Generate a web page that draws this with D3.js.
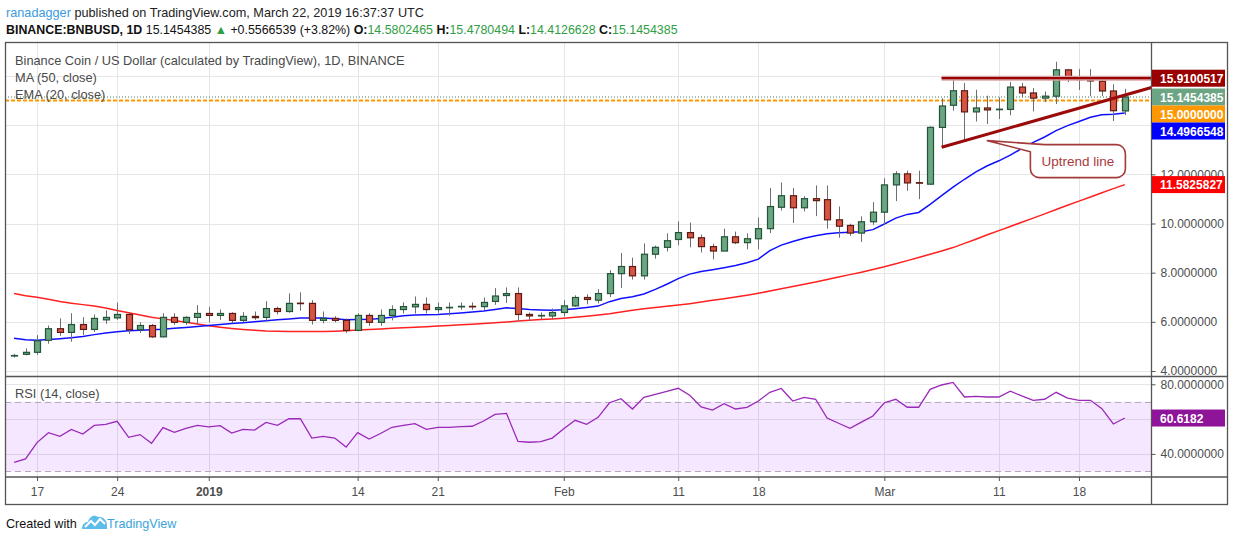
<!DOCTYPE html>
<html>
<head>
<meta charset="utf-8">
<script src="https://cdn.jsdelivr.net/npm/d3@7"></script>
<style>
body { margin: 0; background: #fff; }
</style>
</head>
<body>
<div id="chart"></div>
<script>
// daily candles, Dec 15 2018 .. Mar 22 2019
var startDay = new Date(Date.UTC(2018, 11, 15));
var endDay = new Date(Date.UTC(2019, 2, 22));

var opens = [4.61, 4.68, 4.76, 5.25, 5.72, 5.57, 5.89, 5.69, 6.08, 6.16,
    6.30, 5.68, 5.85, 5.39, 6.18, 5.98, 6.18, 6.34, 6.26, 6.34,
    6.06, 6.22, 6.18, 6.54, 6.42, 6.76, 6.75, 6.06, 6.14, 6.06,
    5.65, 6.26, 5.98, 6.26, 6.50, 6.61, 6.71, 6.50, 6.57, 6.61,
    6.63, 6.62, 6.83, 7.07, 7.15, 6.30, 6.24, 6.24, 6.38, 6.65,
    6.99, 6.88, 7.15, 7.96, 8.25, 7.87, 8.75, 9.03, 9.35, 9.63,
    9.42, 9.06, 8.88, 9.46, 9.22, 9.38, 9.79, 10.66, 11.13, 10.64,
    11.01, 10.97, 10.15, 9.92, 9.61, 10.07, 10.46, 11.57, 12.02, 11.66,
    11.60, 13.91, 14.81, 15.40, 14.54, 14.70, 14.63, 14.64, 15.55, 15.31,
    15.10, 15.18, 16.25, 15.87, 15.82, 15.79, 15.39, 14.5802465];
var highs = [4.70, 4.92, 5.46, 5.85, 6.14, 6.35, 6.19, 6.30, 6.47, 6.79,
    6.37, 5.98, 5.91, 6.35, 6.35, 6.23, 6.68, 6.60, 6.50, 6.39,
    6.39, 6.42, 6.84, 6.62, 7.16, 7.20, 6.88, 6.42, 6.23, 6.14,
    6.35, 6.35, 6.50, 6.67, 6.79, 7.03, 6.99, 6.79, 6.79, 6.79,
    6.79, 6.99, 7.37, 7.40, 7.40, 6.38, 6.38, 6.54, 6.88, 7.08,
    7.12, 7.33, 8.10, 8.80, 8.61, 9.19, 9.10, 9.60, 10.09, 10.04,
    9.55, 9.18, 9.79, 9.67, 9.60, 10.24, 11.44, 11.67, 11.44, 11.11,
    11.55, 11.55, 10.69, 9.99, 10.29, 10.87, 11.84, 12.13, 12.15, 12.15,
    13.95, 15.09, 15.90, 15.72, 15.44, 15.20, 15.13, 15.76, 15.72, 15.51,
    15.37, 16.58, 16.28, 16.28, 16.28, 15.97, 15.66, 15.4780494];
var lows = [4.55, 4.64, 4.66, 5.11, 5.43, 5.19, 5.47, 5.59, 5.92, 6.08,
    5.51, 5.55, 5.35, 5.37, 5.88, 5.88, 5.89, 5.98, 6.08, 5.94,
    5.98, 6.08, 6.00, 6.30, 6.37, 6.45, 5.89, 5.94, 5.98, 5.55,
    5.65, 5.84, 5.84, 6.06, 6.34, 6.34, 6.34, 6.37, 6.26, 6.49,
    6.49, 6.49, 6.69, 6.77, 6.04, 6.04, 6.11, 6.11, 6.22, 6.61,
    6.71, 6.75, 7.01, 7.37, 7.72, 7.72, 8.57, 8.86, 9.12, 9.03,
    8.82, 8.54, 8.88, 9.16, 8.95, 8.95, 9.61, 10.53, 10.02, 10.49,
    10.30, 9.79, 9.42, 9.50, 9.25, 9.95, 9.95, 10.91, 11.33, 10.99,
    11.58, 13.15, 14.59, 13.37, 14.15, 14.05, 14.25, 14.40, 15.13, 14.56,
    14.94, 14.86, 15.75, 15.43, 15.18, 15.18, 14.17, 14.4126628];
var closes = [4.63, 4.76, 5.23, 5.72, 5.57, 5.89, 5.69, 6.14, 6.18, 6.30,
    5.68, 5.85, 5.39, 6.18, 5.98, 6.18, 6.34, 6.26, 6.34, 6.06,
    6.22, 6.17, 6.54, 6.42, 6.75, 6.74, 6.06, 6.14, 6.06, 5.65,
    6.26, 5.98, 6.26, 6.50, 6.62, 6.71, 6.50, 6.58, 6.59, 6.63,
    6.61, 6.79, 7.05, 7.15, 6.30, 6.24, 6.26, 6.38, 6.65, 6.99,
    6.91, 7.15, 7.96, 8.25, 7.87, 8.75, 9.03, 9.30, 9.63, 9.42,
    9.06, 8.88, 9.46, 9.22, 9.38, 9.79, 10.69, 11.13, 10.64, 11.01,
    10.93, 10.15, 9.89, 9.61, 10.07, 10.46, 11.57, 12.02, 11.65, 11.64,
    13.91, 14.78, 15.40, 14.54, 14.70, 14.62, 14.65, 15.55, 15.31, 15.10,
    15.18, 16.25, 15.91, 15.85, 15.80, 15.39, 14.5887846, 15.1454385];

var ma50 = [7.15, 7.06, 7.00, 6.92, 6.83, 6.76, 6.70, 6.64, 6.56, 6.46,
    6.37, 6.28, 6.19, 6.12, 6.05, 5.98, 5.91, 5.84, 5.78, 5.73,
    5.69, 5.66, 5.63, 5.62, 5.61, 5.61, 5.61, 5.61, 5.62, 5.64,
    5.67, 5.69, 5.71, 5.74, 5.76, 5.78, 5.80, 5.83, 5.85, 5.88,
    5.90, 5.93, 5.96, 5.99, 6.03, 6.06, 6.09, 6.12, 6.15, 6.19,
    6.23, 6.28, 6.33, 6.40, 6.47, 6.53, 6.58, 6.63, 6.68, 6.74,
    6.81, 6.88, 6.94, 7.01, 7.08, 7.16, 7.25, 7.35, 7.44, 7.53,
    7.62, 7.72, 7.82, 7.92, 8.02, 8.13, 8.24, 8.36, 8.49, 8.62,
    8.75, 8.88, 9.02, 9.19, 9.36, 9.54, 9.71, 9.88, 10.05, 10.22,
    10.39, 10.57, 10.74, 10.91, 11.08, 11.25, 11.42, 11.5825827];
var ema20 = [5.33, 5.27, 5.25, 5.28, 5.31, 5.35, 5.40, 5.48, 5.55, 5.60,
    5.64, 5.66, 5.68, 5.70, 5.74, 5.77, 5.81, 5.85, 5.89, 5.93,
    5.96, 6.00, 6.04, 6.08, 6.12, 6.16, 6.16, 6.16, 6.13, 6.08,
    6.09, 6.10, 6.14, 6.19, 6.25, 6.28, 6.29, 6.30, 6.33, 6.36,
    6.40, 6.44, 6.50, 6.57, 6.54, 6.50, 6.48, 6.47, 6.49, 6.53,
    6.58, 6.64, 6.82, 6.95, 7.02, 7.13, 7.32, 7.53, 7.76, 7.94,
    8.05, 8.12, 8.20, 8.29, 8.40, 8.55, 8.90, 9.12, 9.27, 9.40,
    9.50, 9.58, 9.62, 9.64, 9.66, 9.75, 9.98, 10.22, 10.37, 10.45,
    10.78, 11.13, 11.48, 11.80, 12.10, 12.35, 12.55, 12.78, 13.05, 13.30,
    13.52, 13.78, 13.98, 14.15, 14.32, 14.42, 14.44, 14.4966548];
var rsi14 = [35.2, 37.1, 46.5, 52.2, 50.1, 54.1, 51.4, 56.4, 57.0, 58.7,
    49.5, 51.1, 46.1, 55.1, 52.4, 54.7, 56.4, 55.5, 56.2, 52.0,
    54.1, 53.7, 58.1, 56.4, 60.2, 60.2, 49.1, 50.1, 49.1, 43.9,
    52.2, 48.5, 51.7, 55.3, 56.4, 57.4, 54.1, 55.3, 55.3, 55.7,
    55.9, 58.9, 62.7, 63.3, 47.2, 46.7, 47.0, 49.1, 54.5, 59.3,
    57.0, 61.0, 69.4, 71.7, 65.8, 72.5, 74.2, 76.0, 77.7, 73.7,
    67.0, 65.2, 68.9, 65.8, 66.8, 70.4, 75.4, 77.6, 70.4, 72.5,
    71.4, 60.6, 57.6, 54.7, 58.3, 61.8, 69.4, 71.4, 66.8, 66.8,
    77.1, 79.6, 81.1, 72.7, 73.1, 72.7, 72.7, 76.0, 73.3, 70.8,
    71.4, 75.4, 72.1, 70.8, 70.8, 66.0, 57.2, 60.6182];

var tickDates = ["2018-12-17", "2018-12-24", "2019-01-01", "2019-01-14", "2019-01-21", "2019-02-01",
    "2019-02-11", "2019-02-18", "2019-03-01", "2019-03-11", "2019-03-18"];
var tickLabels = ["17", "24", "2019", "14", "21", "Feb", "11", "18", "Mar", "11", "18"];
var priceTicks = [4, 6, 8, 10, 12, 14, 16];
var rsiGrid = [40, 60, 80];
var rsiLabels = [40, 80];
var rsiBand = [30, 70];

// drawings on the chart
var resistance = 15.9100517;
var resistanceDates = ["2019-03-06", "2019-03-26"];
var orangeLevel = 15.0;
var trendDates = ["2019-03-06", "2019-03-25"];
var trendPrices = [13.10, 15.62];
var calloutDate = "2019-03-10";
var calloutPrice = 13.37;

var upFill = "#6ba583", upLine = "#225437", downFill = "#d75442", downLine = "#5b1a13";
var font = '"Liberation Sans", Arial, sans-serif';

var box = { left: 5, right: 1151, outer: 1227, top: 42, mainBottom: 376.5, rsiBottom: 477, bottom: 504 };

var days = d3.utcDay.range(startDay, d3.utcDay.offset(endDay, 1));
var candles = days.map(function (d, i) {
    return { date: d, o: opens[i], h: highs[i], l: lows[i], c: closes[i] };
});
var parse = d3.utcParse("%Y-%m-%d");

var x = d3.scaleUtc().domain([startDay, endDay]).range([14.1, 1124.8]);
var y = d3.scaleLinear().domain([4, 16]).range([371, 76]);
var yr = d3.scaleLinear().domain([30, 80]).range([471.3, 384.3]);

var svg = d3.select("#chart").append("svg")
    .attr("width", 1234)
    .attr("height", 541)
    .style("font-family", font);

svg.append("rect").attr("width", 1234).attr("height", 541).attr("fill", "#fff");

var defs = svg.append("defs");
defs.append("clipPath").attr("id", "mainClip").append("rect")
    .attr("x", box.left).attr("y", box.top)
    .attr("width", box.right - box.left).attr("height", box.mainBottom - box.top);
defs.append("clipPath").attr("id", "rsiClip").append("rect")
    .attr("x", box.left).attr("y", box.mainBottom)
    .attr("width", box.right - box.left).attr("height", box.rsiBottom - box.mainBottom);

// header
var head1 = svg.append("text").attr("x", 6).attr("y", 17).attr("font-size", 12.7).attr("fill", "#222");
head1.append("tspan").attr("fill", "#3a9be0").text("ranadagger");
head1.append("tspan").text(" published on TradingView.com, March 22, 2019 16:37:37 UTC");

var green = "#2f9e44";
var head2 = svg.append("text").attr("x", 6).attr("y", 34).attr("font-size", 12.4).attr("fill", "#111");
head2.append("tspan").attr("font-weight", "bold").text("BINANCE:BNBUSD, 1D");
head2.append("tspan").text(" 15.1454385 ");
head2.append("tspan").attr("fill", green).text("\u25B2");
head2.append("tspan").text(" +0.5566539 (+3.82%) ");
[["O:", "14.5802465"], ["H:", "15.4780494"], ["L:", "14.4126628"], ["C:", "15.1454385"]].forEach(function (p, i) {
    head2.append("tspan").attr("font-weight", "bold").text((i ? " " : "") + p[0]);
    head2.append("tspan").attr("fill", green).text(p[1]);
});

// grid
var grid = svg.append("g").attr("stroke", "#e6e6e6").attr("stroke-width", 1);
grid.selectAll(".vg").data(tickDates).enter().append("line")
    .attr("x1", function (d) { return Math.round(x(parse(d))) + 0.5; })
    .attr("x2", function (d) { return Math.round(x(parse(d))) + 0.5; })
    .attr("y1", box.top).attr("y2", box.rsiBottom);
grid.selectAll(".hg").data(priceTicks).enter().append("line")
    .attr("x1", box.left).attr("x2", box.right)
    .attr("y1", function (d) { return Math.round(y(d)) + 0.5; })
    .attr("y2", function (d) { return Math.round(y(d)) + 0.5; });
grid.selectAll(".rg").data(rsiGrid).enter().append("line")
    .attr("x1", box.left).attr("x2", box.right)
    .attr("y1", function (d) { return Math.round(yr(d)) + 0.5; })
    .attr("y2", function (d) { return Math.round(yr(d)) + 0.5; });

// price lines across the pane
var main = svg.append("g").attr("clip-path", "url(#mainClip)");
main.append("line")
    .attr("x1", box.left).attr("x2", box.right)
    .attr("y1", y(closes[closes.length - 1])).attr("y2", y(closes[closes.length - 1]))
    .attr("stroke", "#3d7a58").attr("stroke-width", 1).attr("stroke-dasharray", "1,2");
main.append("line")
    .attr("x1", box.left).attr("x2", box.right)
    .attr("y1", y(orangeLevel)).attr("y2", y(orangeLevel))
    .attr("stroke", "#ff9800").attr("stroke-width", 2).attr("stroke-dasharray", "4,2");

// legend
var legend = svg.append("g").attr("font-size", 12.8).attr("fill", "#4a4a4a");
legend.append("text").attr("x", 15).attr("y", 65).text("Binance Coin / US Dollar (calculated by TradingView), 1D, BINANCE");
legend.append("text").attr("x", 15).attr("y", 82).text("MA (50, close)");
legend.append("text").attr("x", 15).attr("y", 99).text("EMA (20, close)");

// moving averages
var line = function (vals) {
    return d3.line().x(function (d, i) { return x(days[i]); }).y(function (d) { return y(d); })(vals);
};
main.append("path").attr("d", line(ma50)).attr("fill", "none").attr("stroke", "#ff2020").attr("stroke-width", 1.5);
main.append("path").attr("d", line(ema20)).attr("fill", "none").attr("stroke", "#1010ff").attr("stroke-width", 1.5);

// candles
var cw = 6;
var cg = main.selectAll(".candle").data(candles).enter().append("g").attr("class", "candle");
cg.append("line")
    .attr("x1", function (d) { return Math.round(x(d.date)) + 0.5; })
    .attr("x2", function (d) { return Math.round(x(d.date)) + 0.5; })
    .attr("y1", function (d) { return y(d.h); })
    .attr("y2", function (d) { return y(d.l); })
    .attr("stroke", "#6e6e6e").attr("stroke-width", 1);
cg.append("rect")
    .attr("x", function (d) { return Math.round(x(d.date)) + 0.5 - cw / 2; })
    .attr("width", cw)
    .attr("y", function (d) { return y(Math.max(d.o, d.c)); })
    .attr("height", function (d) { return Math.max(0.5, Math.abs(y(d.o) - y(d.c))); })
    .attr("fill", function (d) { return d.c >= d.o ? upFill : downFill; })
    .attr("stroke", function (d) { return d.c >= d.o ? upLine : downLine; })
    .attr("stroke-width", 1.2);

// resistance and trend line
var dr = main.append("g");
var rx = resistanceDates.map(function (d) { return x(parse(d)); });
dr.append("line").attr("x1", rx[0]).attr("x2", rx[1]).attr("y1", y(resistance)).attr("y2", y(resistance))
    .attr("stroke", "#dba3a3").attr("stroke-width", 5);
dr.append("line").attr("x1", rx[0]).attr("x2", rx[1]).attr("y1", y(resistance)).attr("y2", y(resistance))
    .attr("stroke", "#990000").attr("stroke-width", 2.2);
dr.append("line")
    .attr("x1", x(parse(trendDates[0]))).attr("y1", y(trendPrices[0]))
    .attr("x2", x(parse(trendDates[1]))).attr("y2", y(trendPrices[1]))
    .attr("stroke", "#9a0a0a").attr("stroke-width", 3);

// callout
var tip = [x(parse(calloutDate)), y(calloutPrice)];
var bx = tip[0] + 43, by = tip[1] + 4, bw = 95, bh = 33, r = 9;
var cp = "M" + tip[0] + "," + tip[1] +
    " L" + (bx + 14) + "," + by +
    " H" + (bx + bw - r) + " A" + r + "," + r + " 0 0 1 " + (bx + bw) + "," + (by + r) +
    " V" + (by + bh - r) + " A" + r + "," + r + " 0 0 1 " + (bx + bw - r) + "," + (by + bh) +
    " H" + (bx + r) + " A" + r + "," + r + " 0 0 1 " + bx + "," + (by + bh - r) +
    " V" + (by + 7) + " Z";
svg.append("path").attr("d", cp).attr("fill", "#fff").attr("stroke", "#a33a3a").attr("stroke-width", 1.6)
    .attr("stroke-linejoin", "round");
svg.append("text").attr("x", bx + bw / 2).attr("y", by + bh / 2 + 5)
    .attr("text-anchor", "middle").attr("font-size", 13.5).attr("fill", "#a83a3a").text("Uptrend line");

// rsi pane
var rp = svg.append("g").attr("clip-path", "url(#rsiClip)");
rp.append("rect")
    .attr("x", box.left).attr("width", box.right - box.left)
    .attr("y", yr(rsiBand[1])).attr("height", yr(rsiBand[0]) - yr(rsiBand[1]))
    .attr("fill", "#9915ff").attr("fill-opacity", 0.1);
rp.selectAll(".band").data(rsiBand).enter().append("line")
    .attr("x1", box.left).attr("x2", box.right)
    .attr("y1", function (d) { return Math.round(yr(d)) + 0.5; })
    .attr("y2", function (d) { return Math.round(yr(d)) + 0.5; })
    .attr("stroke", "#b5a9bd").attr("stroke-dasharray", "6,4");
rp.append("path")
    .attr("d", d3.line().x(function (d, i) { return x(days[i]); }).y(function (d) { return yr(d); })(rsi14))
    .attr("fill", "none").attr("stroke", "#9a28b8").attr("stroke-width", 1.3);
svg.append("text").attr("x", 15).attr("y", 398).attr("font-size", 12.8).attr("fill", "#4a4a4a").text("RSI (14, close)");

// frame
var frame = svg.append("g").attr("stroke", "#555").attr("fill", "none");
frame.append("rect").attr("x", box.left + 0.5).attr("y", box.top + 0.5)
    .attr("width", box.outer - box.left).attr("height", box.bottom - box.top).attr("stroke-width", 1.3);
frame.append("line").attr("x1", box.right + 0.5).attr("x2", box.right + 0.5).attr("y1", box.top).attr("y2", box.bottom).attr("stroke-width", 1.3);
frame.append("line").attr("x1", box.left).attr("x2", box.outer).attr("y1", box.mainBottom).attr("y2", box.mainBottom).attr("stroke-width", 1.5);
frame.append("line").attr("x1", box.left).attr("x2", box.outer).attr("y1", box.rsiBottom).attr("y2", box.rsiBottom).attr("stroke-width", 1.5);

// last value labels on the scale, pushed down so they do not overlap
var marks = [
    { v: resistance, color: "#990000" },
    { v: closes[closes.length - 1], color: upFill },
    { v: orangeLevel, color: "#ff9800" },
    { v: ema20[ema20.length - 1], color: "#0000ff" },
    { v: ma50[ma50.length - 1], color: "#ff0000" }
].sort(function (a, b) { return b.v - a.v; });
var prev = -Infinity;
marks.forEach(function (m) {
    m.cy = Math.max(y(m.v), prev + 17);
    prev = m.cy;
});
var rsiMark = { v: rsi14[rsi14.length - 1], color: "#8e1599", cy: yr(rsi14[rsi14.length - 1]), rsi: true };

// scale labels that sit fully under a value label are hidden, as on the source
var covered = function (cy, list) {
    return list.some(function (m) { return Math.abs(m.cy - cy) < 8.5; });
};

// price axis
var yAxis = svg.append("g")
    .attr("transform", "translate(" + (box.right + 0.5) + ",0)")
    .call(d3.axisRight(y).tickValues(priceTicks).tickSize(4).tickPadding(5).tickFormat(d3.format(".7f")));
yAxis.select(".domain").remove();
yAxis.selectAll("line").attr("stroke", "#555");
yAxis.selectAll("text").attr("font-family", font).attr("font-size", 12).attr("fill", "#4d4d4d")
    .style("display", function (d) { return covered(y(d), marks) ? "none" : null; });

var rAxis = svg.append("g")
    .attr("transform", "translate(" + (box.right + 0.5) + ",0)")
    .call(d3.axisRight(yr).tickValues(rsiLabels).tickSize(4).tickPadding(5).tickFormat(d3.format(".7f")));
rAxis.select(".domain").remove();
rAxis.selectAll("line").attr("stroke", "#555");
rAxis.selectAll("text").attr("font-family", font).attr("font-size", 12).attr("fill", "#4d4d4d");

// time axis
var xAxis = svg.append("g")
    .attr("transform", "translate(0," + box.rsiBottom + ")")
    .call(d3.axisBottom(x).tickValues(tickDates.map(parse)).tickSize(4).tickPadding(6)
        .tickFormat(function (d, i) { return tickLabels[i]; }));
xAxis.select(".domain").remove();
xAxis.selectAll("line").attr("stroke", "#555");
xAxis.selectAll("text").attr("font-family", font).attr("font-size", 12).attr("fill", "#4d4d4d")
    .attr("font-weight", function (d, i) { return tickLabels[i] === "2019" ? "bold" : null; });

var lab = svg.selectAll(".lab").data(marks.concat([rsiMark])).enter().append("g").attr("class", "lab");
lab.append("rect")
    .attr("x", box.right + 1).attr("width", 73)
    .attr("y", function (d) { return d.cy - 8.5; }).attr("height", 17)
    .attr("fill", function (d) { return d.color; });
lab.append("text")
    .attr("x", box.right + 9).attr("y", function (d) { return d.cy + 4.5; })
    .attr("font-size", 12).attr("font-weight", "bold").attr("fill", "#fff")
    .text(function (d) { return d.rsi ? d3.format(".4f")(d.v) : d3.format(".7f")(d.v); });

// footer
svg.append("text").attr("x", 6).attr("y", 528).attr("font-size", 12.6).attr("fill", "#111").text("Created with");
var logo = svg.append("g").attr("transform", "translate(82,514)");
logo.append("path")
    .attr("d", "M0,15 C0,10 3,8 6,8 C7,3 12,0 16,3 C20,2 25,6 25,11 L25,15 Z")
    .attr("fill", "#5bbde8");
logo.append("path")
    .attr("d", "M3,13 L9,7 L13,11 L18,5 L23,10")
    .attr("fill", "none").attr("stroke", "#fff").attr("stroke-width", 2);
svg.append("text").attr("x", 107).attr("y", 528).attr("font-size", 12.6).attr("fill", "#3aa3dc").text("TradingView");
</script>
</body>
</html>
